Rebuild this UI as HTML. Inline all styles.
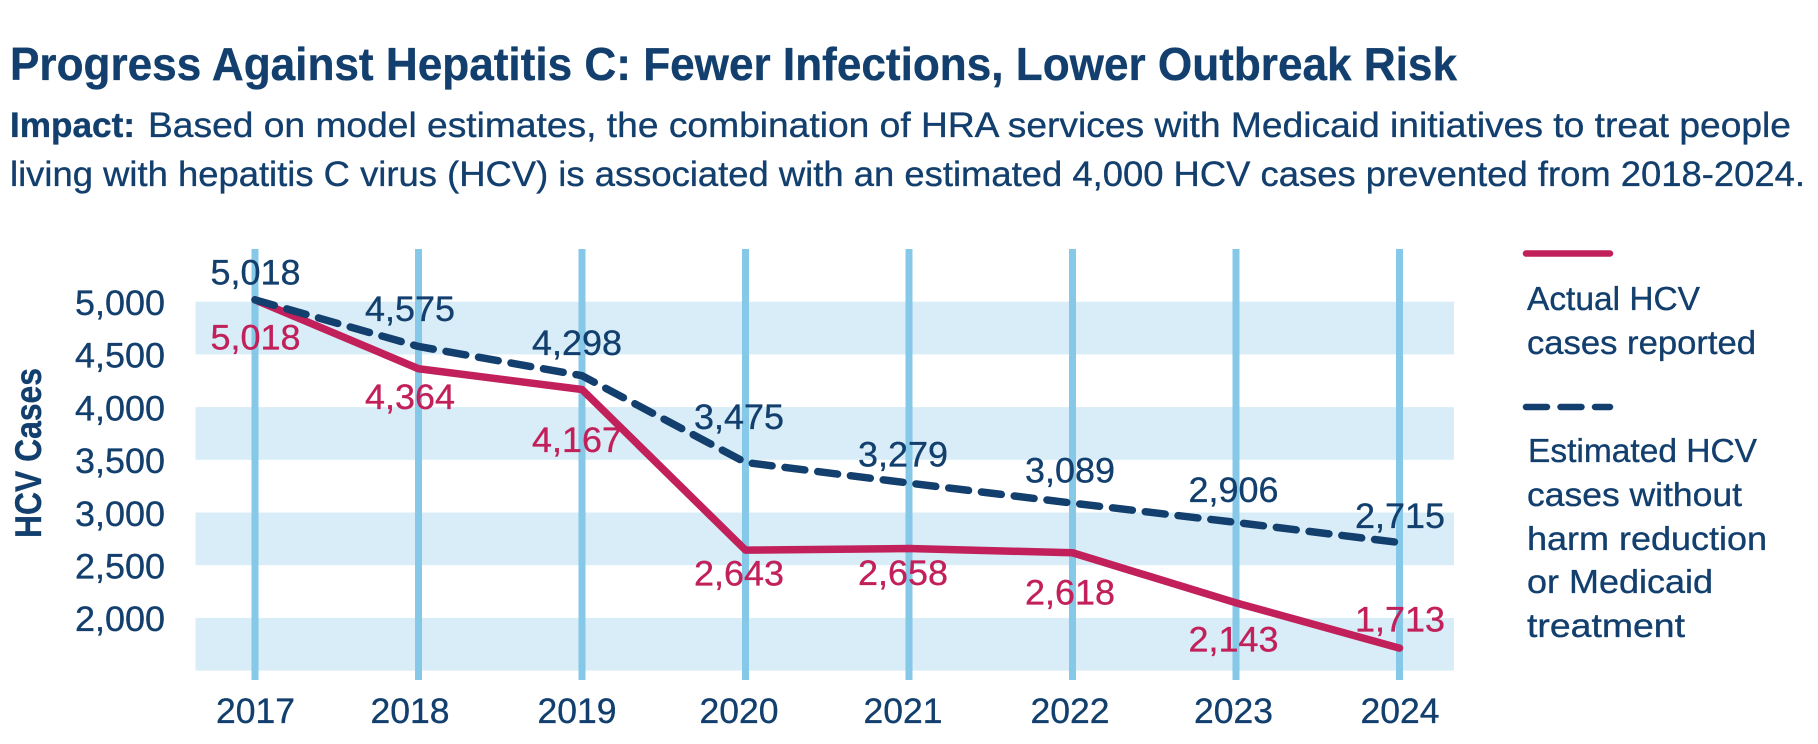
<!DOCTYPE html>
<html lang="en">
<head>
<meta charset="utf-8">
<title>Progress Against Hepatitis C</title>
<style>
  html, body { margin: 0; padding: 0; background: #ffffff; }
  body { width: 1818px; height: 744px; overflow: hidden; }
  svg { display: block; font-family: "Liberation Sans", sans-serif; }
  text { fill: #123f6d; stroke: #123f6d; stroke-width: 0.35; }
  .bold { font-weight: 700; }
  .red { fill: #c2205a; stroke: #c2205a; }
</style>
</head>
<body>
<svg id="chart" width="1818" height="744" viewBox="0 0 1818 744" xmlns="http://www.w3.org/2000/svg">
  <text class="bold" x="10" y="80" font-size="46" textLength="1447" lengthAdjust="spacingAndGlyphs">Progress Against Hepatitis C: Fewer Infections, Lower Outbreak Risk</text>
  <text class="bold" x="10" y="137" font-size="35" textLength="125" lengthAdjust="spacingAndGlyphs">Impact:</text>
  <text x="148" y="137" font-size="35" textLength="1643" lengthAdjust="spacingAndGlyphs">Based on model estimates, the combination of HRA services with Medicaid initiatives to treat people</text>
  <text x="10" y="186" font-size="35" textLength="1795" lengthAdjust="spacingAndGlyphs">living with hepatitis C virus (HCV) is associated with an estimated 4,000 HCV cases prevented from 2018-2024.</text>

  <g id="bands"></g>
  <g id="grid"></g>
  <g id="yaxis"></g>
  <g id="xaxis"></g>
  <g id="lines"></g>
  <g id="labels"></g>

  <text class="bold" transform="translate(41,538) rotate(-90)" font-size="37" textLength="170" lengthAdjust="spacingAndGlyphs">HCV Cases</text>

  <g>
    <line x1="1526" y1="253.5" x2="1610" y2="253.5" stroke="#c2205a" stroke-width="6.5" stroke-linecap="round"/>
    <text x="1527" y="310" font-size="33" textLength="173" lengthAdjust="spacingAndGlyphs">Actual HCV</text>
    <text x="1527" y="354" font-size="33" textLength="229" lengthAdjust="spacingAndGlyphs">cases reported</text>
    <line x1="1526" y1="407" x2="1610" y2="407" stroke="#123f6d" stroke-width="6.5" stroke-linecap="round" stroke-dasharray="21 13.5"/>
    <text x="1528" y="462" font-size="33" textLength="229" lengthAdjust="spacingAndGlyphs">Estimated HCV</text>
    <text x="1527" y="506" font-size="33" textLength="215" lengthAdjust="spacingAndGlyphs">cases without</text>
    <text x="1527" y="550" font-size="33" textLength="240" lengthAdjust="spacingAndGlyphs">harm reduction</text>
    <text x="1527" y="593" font-size="33" textLength="186" lengthAdjust="spacingAndGlyphs">or Medicaid</text>
    <text x="1527" y="637" font-size="33" textLength="158" lengthAdjust="spacingAndGlyphs">treatment</text>
  </g>
</svg>
<script>
const years = [2017, 2018, 2019, 2020, 2021, 2022, 2023, 2024];
const actualCases = [5018, 4364, 4167, 2643, 2658, 2618, 2143, 1713];
const estimatedCases = [5018, 4575, 4298, 3475, 3279, 3089, 2906, 2715];
const yTicks = [5000, 4500, 4000, 3500, 3000, 2500, 2000];
const bandStarts = [5000, 4000, 3000, 2000];
const bandSpan = 500;

const labelShiftX = [0.5, -8.5, -5, -6.5, -6, -2.5, -2.5, 0.5];
const actualLabelShiftY = [37, 28, 50, 23, 24, 39, 36, -29];
const estimatedLabelShiftY = [-28, -38, -33, -46, -29, -33, -33, -27];

const NS = 'http://www.w3.org/2000/svg';
const xScale = (i) => 255 + i * 163.5;
const yScale = (v) => 301.7 + (5000 - v) * (52.7 / 500);
const fmt = (v) => v.toLocaleString('en-US');

function make(tag, parentId, attrs, text) {
  const el = document.createElementNS(NS, tag);
  for (const key of Object.keys(attrs)) el.setAttribute(key, attrs[key]);
  if (text !== undefined) el.textContent = text;
  document.getElementById(parentId).appendChild(el);
  return el;
}

bandStarts.forEach((start) => {
  const top = yScale(start);
  const el = make('rect', 'bands', { x: 195.5, y: top, width: 1258.5, height: yScale(start - bandSpan) - top, fill: '#d8edf7' });
  
  
});

years.forEach((year, i) => {
  const el = make('line', 'grid', { x1: xScale(i), x2: xScale(i), y1: 249, y2: 680, stroke: '#85c8e8', 'stroke-width': 7 });
  
  
});

yTicks.forEach((tick) => {
  const el = make('text', 'yaxis', { x: 165, y: yScale(tick) + 13.3, 'text-anchor': 'end', 'font-size': 35, textLength: 90, lengthAdjust: 'spacingAndGlyphs' }, fmt(tick));
  
  
});

years.forEach((year, i) => {
  const el = make('text', 'xaxis', { x: xScale(i) + labelShiftX[i], y: 723, 'text-anchor': 'middle', 'font-size': 35, textLength: 79, lengthAdjust: 'spacingAndGlyphs' }, String(year));
  
  
});

const toPoints = (series) => series.map((v, i) => xScale(i) + ',' + yScale(v)).join(' ');

const actualLine = make('polyline', 'lines', { points: toPoints(actualCases), fill: 'none', stroke: '#c2205a', 'stroke-width': 7.5, 'stroke-linejoin': 'round', 'stroke-linecap': 'round' });



const estimatedLine = make('polyline', 'lines', { points: toPoints(estimatedCases), fill: 'none', stroke: '#123f6d', 'stroke-width': 7.5, 'stroke-linejoin': 'round', 'stroke-linecap': 'round', 'stroke-dasharray': '20 13' });



estimatedCases.forEach((v, i) => {
  const el = make('text', 'labels', { x: xScale(i) + labelShiftX[i], y: yScale(v) + estimatedLabelShiftY[i] + 12.5, 'text-anchor': 'middle', 'font-size': 35, textLength: 90, lengthAdjust: 'spacingAndGlyphs' }, fmt(v));
  
  
});

actualCases.forEach((v, i) => {
  const el = make('text', 'labels', { class: 'red', x: xScale(i) + labelShiftX[i], y: yScale(v) + actualLabelShiftY[i] + 12.5, 'text-anchor': 'middle', 'font-size': 35, textLength: 90, lengthAdjust: 'spacingAndGlyphs' }, fmt(v));
  
  
});
</script>
</body>
</html>
